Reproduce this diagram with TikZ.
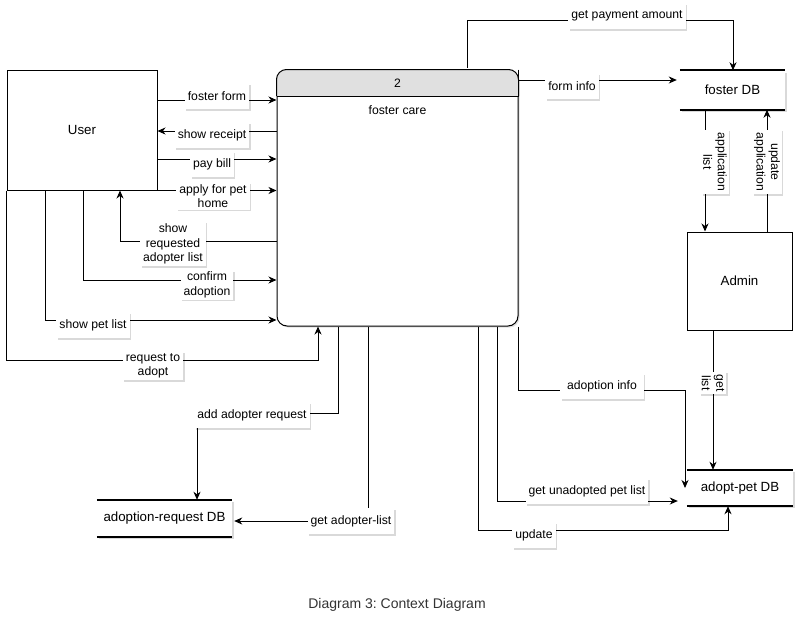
\documentclass[tikz,border=0pt]{standalone}
\usepackage{fontspec}
\setmainfont{Liberation Sans}
\usetikzlibrary{arrows.meta,shadows,calc}
\definecolor{hdr}{HTML}{E0E0E0}
\frenchspacing
\newcommand{\lblfont}{\fontsize{12.2}{14.5}\selectfont}
\newcommand{\boxfont}{\fontsize{13.3}{16}\selectfont}
\tikzset{
  every node/.style={font=\lblfont},
  box/.style={draw, line width=1pt, fill=white, inner sep=0pt, font=\boxfont},
  lbl/.style={fill=white, inner xsep=3pt, inner ysep=2pt, minimum height=26pt, align=center,
    drop shadow={shadow xshift=1.5pt, shadow yshift=-1.5pt, opacity=0.15, fill=black}},
  dbtxt/.style={fill=white, inner sep=0pt, font=\boxfont,
    drop shadow={shadow xshift=2pt, shadow yshift=-2pt, opacity=0.15, fill=black}},
  dbline/.style={line width=2pt},
  conn/.style={line width=1pt},
  arr/.style={conn, -{Stealth[length=8pt, width=7pt, inset=2.5pt]}},
}
\begin{document}
\begin{tikzpicture}[x=1pt, y=-1pt]
\useasboundingbox (0,0) rectangle (805,632);

% boxes
\node[box, minimum width=150pt, minimum height=120pt] (user) at (82,130) {User};
\node[box, minimum width=105pt, minimum height=98pt] (admin) at (739.5,281) {Admin};
\node[draw, line width=1pt, fill=white, rounded corners=10pt, minimum width=241pt, minimum height=256pt,
  drop shadow={shadow xshift=1.5pt, shadow yshift=-1.5pt, opacity=0.12, fill=black}] (proc) at (397.5,198) {};
\path[fill=hdr, draw, line width=1pt, rounded corners=10pt] (proc.west |- 0,96) -- (proc.north west) -- (proc.north east) -- (proc.east |- 0,96);
\draw[line width=1pt] (proc.west |- 0,96) -- (proc.east |- 0,96);
\node (pnum) at (397.5,83) {2};
\node (pname) at (397.5,110) {foster care};

% data stores
\node[dbtxt, minimum width=105pt, minimum height=39pt] (fdb) at (732.5,90) {foster DB};
\draw[dbline] (fdb.north west) -- (fdb.north east);
\draw[dbline] (fdb.south west) -- (fdb.south east);
\node[dbtxt, minimum width=106pt, minimum height=36pt] (apdb) at (740,488) {adopt-pet DB};
\draw[dbline] (apdb.north west) -- (apdb.north east);
\draw[dbline] (apdb.south west) -- (apdb.south east);
\node[dbtxt, minimum width=135pt, minimum height=37pt] (arq) at (164.5,518.5) {adoption-request DB};
\draw[dbline] (arq.north west) -- (arq.north east);
\draw[dbline] (arq.south west) -- (arq.south east);

% connectors
\draw[arr] (user.east |- 0,100) -- (proc.west |- 0,100);
\draw[arr] (proc.west |- 0,131) -- (user.east |- 0,131);
\draw[arr] (user.east |- 0,159) -- (proc.west |- 0,159);
\draw[arr] (user.south east) -- (proc.west |- user.south east);
\draw[arr] (proc.west |- 0,241) -| (user.south -| 120,0);
\draw[arr] (user.south -| 83,0) |- (proc.west |- 0,280);
\draw[arr] (user.south -| 45,0) |- (proc.west |- 0,320);
\draw[arr] (user.south west) |- (318,360) -- (proc.south -| 318,0);
\draw[arr] (proc.south -| 338,0) |- (197,413) -- (arq.north -| 197,0);
\draw[arr] (proc.south -| 368,0) |- ([xshift=2pt]arq.east |- 0,521);
\draw[arr] (proc.south -| 478,0) |- (728,530) -- (apdb.south -| 728,0);
\draw[arr, shorten >=9pt] (proc.south -| 497,0) |- (apdb.west |- 0,501);
\draw[arr] (proc.south east) |- (685,390) -- (apdb.west -| 685,0);
\draw[arr] (admin.south -| 713,0) -- (apdb.north -| 713,0);
\draw[arr] (fdb.south -| 705,0) -- (admin.north -| 705,0);
\draw[arr] (admin.north -| 767,0) -- (fdb.south -| 767,0);
\draw[arr] (proc.north east) -- (proc.east |- 0,80) -- ([xshift=-3pt]fdb.west |- 0,80);
\draw[arr] (proc.north -| 467,0) ++(0,-2) |- (733,20) -- (fdb.north -| 733,0);

% labels
\node[lbl] (l1) at (217,96) {foster form};
\node[lbl] (l2) at (212,135) {show receipt};
\node[lbl] (l3) at (212,164) {pay bill};
\node[lbl] (l4) at (213,196) {apply for pet\\home};
\node[lbl] (l5) at (173,244) {show\\requested\\adopter list};
\node[lbl] (l6) at (207,285) {confirm\\adoption};
\node[lbl] (l7) at (93,325) {show pet list};
\node[lbl] (l8) at (153,366) {request to\\adopt};
\node[lbl] (l9) at (252,415) {add adopter request};
\node[lbl] (l10) at (351,521) {get adopter-list};
\node[lbl] (l11) at (534,535) {update};
\node[lbl] (l12) at (587,491) {get unadopted pet list};
\node[lbl, inner xsep=7pt] (l13) at (602,386) {adoption info};
\node[lbl, rotate=-90, minimum height=0pt] (l14) at (713,383) {get\\list};
\node[lbl, rotate=-90, minimum height=0pt] (l15) at (715,162) {application\\list};
\node[lbl, rotate=-90, minimum height=0pt] (l16) at (767,162) {update\\application};
\node[lbl] (l17) at (572,86) {form info};
\node[lbl] (l18) at (627,16) {get payment amount};

\node[text=black!80, font=\fontsize{14}{16}\selectfont] (cap) at (397,605) {Diagram 3: Context Diagram};
\end{tikzpicture}
\end{document}
